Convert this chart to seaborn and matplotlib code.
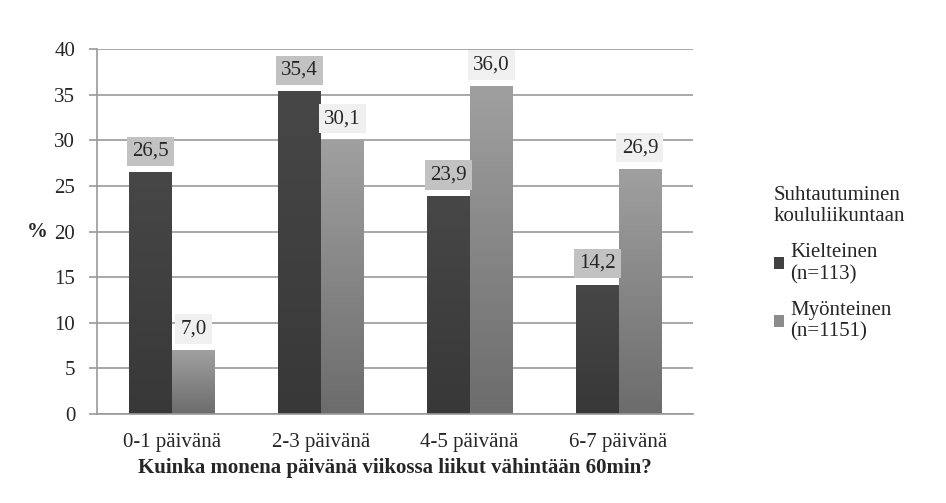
import matplotlib
matplotlib.use("Agg")
import matplotlib.pyplot as plt
import numpy as np
import pandas as pd
import seaborn as sns

categories = ["0-1 päivänä", "2-3 päivänä", "4-5 päivänä", "6-7 päivänä"]
groups = ["Kielteinen\n(n=113)", "Myönteinen\n(n=1151)"]
kielteinen = [26.5, 35.4, 23.9, 14.2]
myonteinen = [7.0, 30.1, 36.0, 26.9]

df = pd.DataFrame({
    "cat": categories * 2,
    "group": [groups[0]] * 4 + [groups[1]] * 4,
    "value": kielteinen + myonteinen,
})

sns.set_style("white")
plt.rcParams["font.family"] = ["Liberation Serif", "DejaVu Serif"]

fig = plt.figure(figsize=(9.46, 5.03), dpi=100)
ax = fig.add_axes([0.103, 0.177, 0.6295, 0.725])

sns.barplot(data=df, x="cat", y="value", hue="group",
            palette=["#414141", "#8c8c8c"], width=0.575, gap=0,
            saturation=1, edgecolor="none", ax=ax, legend=True)

# gradients on the bars
grad = np.linspace(0, 1, 100).reshape(-1, 1)
cmap_d = matplotlib.colors.LinearSegmentedColormap.from_list("d", ["#383838", "#474747"])
cmap_l = matplotlib.colors.LinearSegmentedColormap.from_list("l", ["#6c6c6c", "#a0a0a0"])
n = len(categories)
for i, p in enumerate(ax.patches[:2 * n]):
    x0, y0 = p.get_x(), p.get_y()
    w, h = p.get_width(), p.get_height()
    im = ax.imshow(grad, extent=[x0, x0 + w, y0, y0 + h], origin="lower",
                   cmap=cmap_d if i < n else cmap_l, aspect="auto",
                   zorder=p.get_zorder() + 0.1)
    im.set_clip_path(p)

# value labels
for i, p in enumerate(ax.patches[:2 * n]):
    v = p.get_height()
    fc = "#c2c2c2" if i < n else "#f0f0f0"
    ax.text(p.get_x() + p.get_width() / 2, v + 2.3, f"{v:.1f}".replace(".", ","),
            ha="center", va="center", fontsize=15,
            bbox=dict(boxstyle="square,pad=0.25", fc=fc, ec="none"))

ax.set_xlim(-0.5, 3.5)
ax.set_ylim(0, 40)
ax.set_yticks(range(0, 41, 5))
ax.yaxis.grid(True, color="#999999", linewidth=1.2)
ax.set_axisbelow(True)
ax.set_xticks([0, 1, 2, 3])
ax.set_xticklabels(categories)
ax.set_xticks([-0.5, 0.5, 1.5, 2.5, 3.5], minor=True)
ax.tick_params(axis="x", which="major", length=0, labelsize=15, pad=14)
ax.tick_params(axis="x", which="minor", length=6, width=1.2, color="#999999", direction="out")
ax.tick_params(axis="y", length=6, width=1.2, color="#999999", direction="out",
               labelsize=15, left=True, pad=10)
for s in ["top", "right"]:
    ax.spines[s].set_visible(False)
for s in ["left", "bottom"]:
    ax.spines[s].set_color("#999999")
    ax.spines[s].set_linewidth(1.2)

ax.set_xlabel("Kuinka monena päivänä viikossa liikut vähintään 60min?",
              fontsize=15, fontweight="bold", labelpad=4)
ax.set_ylabel("%", fontsize=15, fontweight="bold", rotation=0, labelpad=12, va="center")

leg = ax.legend(title="Suhtautuminen\nkoululiikuntaan", loc="upper left",
                bbox_to_anchor=(1.118, 0.655), frameon=False, fontsize=15,
                title_fontsize=15, handlelength=0.5, handleheight=0.5,
                handletextpad=0.3, labelspacing=0.8, borderpad=0)
leg._legend_box.align = "left"
leg._legend_box.sep = 12

fig.savefig("out.png", dpi=100)
